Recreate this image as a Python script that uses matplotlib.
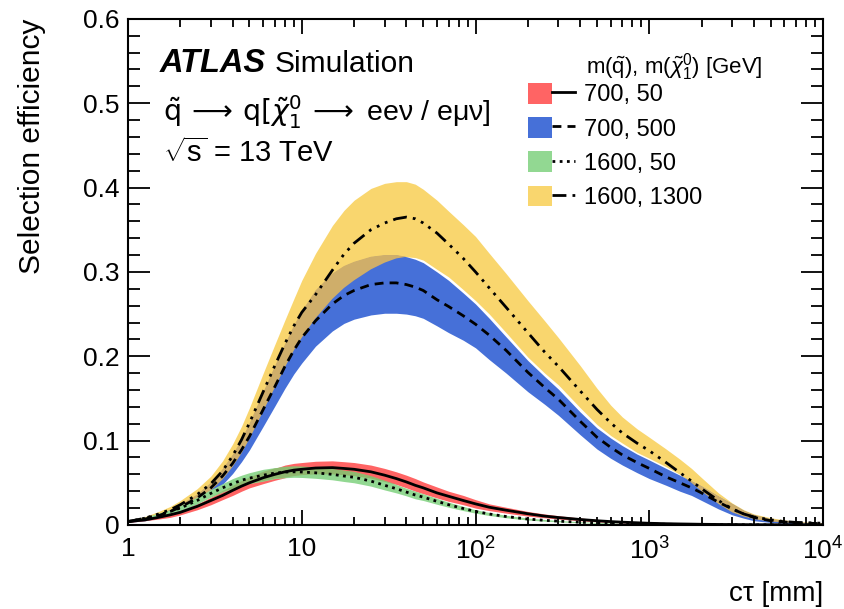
import matplotlib
matplotlib.use("Agg")
import matplotlib.pyplot as plt
import numpy as np
from matplotlib.patches import Patch
from matplotlib.lines import Line2D
from matplotlib.legend_handler import HandlerTuple
from matplotlib.ticker import FixedLocator, LogLocator, NullFormatter

plt.rcParams['font.family'] = ['Liberation Sans', 'DejaVu Sans']
plt.rcParams['mathtext.fontset'] = 'custom'
plt.rcParams['mathtext.rm'] = 'Liberation Sans'
plt.rcParams['mathtext.it'] = 'Liberation Sans:italic'
plt.rcParams['mathtext.bf'] = 'Liberation Sans:bold'

# c*tau points [mm]
ctau = [1, 1.25, 1.5, 1.75, 2, 2.5, 3, 3.5, 4, 4.5, 5, 6, 7, 8, 9, 10, 12, 15, 17.5, 20,
        25, 30, 35, 40, 45, 50, 60, 70, 85, 100, 120, 150, 200, 250, 300, 400, 500, 600,
        700, 850, 1000, 1250, 1500, 1750, 2000, 2500, 3000, 3500, 4000, 5000, 6000, 7000,
        8500, 10000]

# m(squark), m(chi) = 700, 50
eff_700_50 = [0.004, 0.006, 0.009, 0.012, 0.015, 0.022, 0.029, 0.035, 0.041, 0.046, 0.050,
              0.056, 0.060, 0.063, 0.065, 0.066, 0.0675, 0.068, 0.067, 0.066, 0.063, 0.059,
              0.055, 0.051, 0.047, 0.044, 0.038, 0.034, 0.029, 0.025, 0.021, 0.0175, 0.0133,
              0.0105, 0.0088, 0.0065, 0.005, 0.004, 0.0033, 0.0026, 0.002, 0.0015, 0.0012,
              0.001, 0.0008, 0.0006, 0.0005, 0.0004, 0.0003, 0.0003, 0.0002, 0.0002, 0.0001,
              0.0001]
up_700_50 = [0.005, 0.007, 0.010, 0.014, 0.017, 0.025, 0.033, 0.040, 0.046, 0.052, 0.056,
             0.063, 0.067, 0.071, 0.073, 0.074, 0.0755, 0.076, 0.075, 0.074, 0.071, 0.067,
             0.063, 0.059, 0.055, 0.051, 0.045, 0.040, 0.035, 0.030, 0.025, 0.021, 0.016,
             0.013, 0.011, 0.0082, 0.0065, 0.0052, 0.0043, 0.0034, 0.0027, 0.002, 0.0016,
             0.0013, 0.0011, 0.0008, 0.0007, 0.0005, 0.0004, 0.0004, 0.0003, 0.0003, 0.0002,
             0.0002]
lo_700_50 = [0.003, 0.005, 0.007, 0.009, 0.012, 0.018, 0.024, 0.030, 0.035, 0.040, 0.044,
             0.049, 0.053, 0.056, 0.058, 0.059, 0.060, 0.060, 0.059, 0.058, 0.055, 0.051,
             0.048, 0.044, 0.040, 0.037, 0.032, 0.028, 0.024, 0.020, 0.017, 0.014, 0.0105,
             0.0085, 0.007, 0.005, 0.0037, 0.003, 0.0025, 0.0019, 0.0015, 0.0011, 0.0009,
             0.0007, 0.0006, 0.0004, 0.0003, 0.0003, 0.0002, 0.0002, 0.0001, 0.0001, 0.0001,
             0.0]

# 700, 500
eff_700_500 = [0.004, 0.007, 0.011, 0.016, 0.021, 0.032, 0.044, 0.058, 0.073, 0.089, 0.105,
               0.137, 0.164, 0.188, 0.207, 0.222, 0.242, 0.262, 0.272, 0.278, 0.285, 0.287,
               0.287, 0.285, 0.282, 0.278, 0.267, 0.259, 0.248, 0.238, 0.225, 0.207, 0.181,
               0.163, 0.149, 0.123, 0.104, 0.092, 0.083, 0.074, 0.067, 0.057, 0.050, 0.044,
               0.038, 0.027, 0.019, 0.013, 0.009, 0.005, 0.0035, 0.0025, 0.002, 0.0015]
up_700_500 = [0.005, 0.008, 0.013, 0.018, 0.024, 0.036, 0.050, 0.066, 0.083, 0.101, 0.120,
              0.157, 0.188, 0.214, 0.236, 0.253, 0.278, 0.298, 0.307, 0.312, 0.318, 0.320,
              0.320, 0.318, 0.315, 0.311, 0.300, 0.290, 0.275, 0.262, 0.245, 0.223, 0.195,
              0.176, 0.161, 0.134, 0.115, 0.103, 0.094, 0.084, 0.077, 0.067, 0.059, 0.052,
              0.046, 0.034, 0.025, 0.017, 0.012, 0.007, 0.005, 0.0035, 0.0025, 0.002]
lo_700_500 = [0.003, 0.005, 0.008, 0.012, 0.016, 0.025, 0.036, 0.048, 0.061, 0.075, 0.089,
              0.117, 0.141, 0.162, 0.179, 0.192, 0.212, 0.230, 0.239, 0.244, 0.249, 0.251,
              0.251, 0.250, 0.248, 0.245, 0.236, 0.228, 0.219, 0.210, 0.196, 0.180, 0.158,
              0.143, 0.130, 0.107, 0.090, 0.079, 0.071, 0.062, 0.055, 0.047, 0.040, 0.035,
              0.029, 0.019, 0.012, 0.008, 0.005, 0.003, 0.002, 0.0015, 0.001, 0.001]

# 1600, 50
eff_1600_50 = [0.004, 0.008, 0.012, 0.016, 0.020, 0.029, 0.0375, 0.044, 0.049, 0.053, 0.0555,
               0.059, 0.0615, 0.0627, 0.063, 0.0628, 0.0618, 0.060, 0.058, 0.0565, 0.052,
               0.047, 0.043, 0.039, 0.0355, 0.033, 0.028, 0.024, 0.0195, 0.016, 0.013, 0.010,
               0.007, 0.0055, 0.0045, 0.0032, 0.0025, 0.002, 0.0015, 0.0012, 0.001, 0.0008,
               0.0006, 0.0005, 0.0004, 0.0003, 0.0002, 0.0002, 0.0001, 0.0001, 0.0001, 0.0001,
               0.0, 0.0]
up_1600_50 = [0.005, 0.009, 0.014, 0.018, 0.023, 0.033, 0.042, 0.049, 0.055, 0.059, 0.062,
              0.066, 0.068, 0.069, 0.0695, 0.0693, 0.0683, 0.0665, 0.0645, 0.063, 0.058,
              0.0525, 0.048, 0.0435, 0.040, 0.037, 0.0315, 0.027, 0.022, 0.018, 0.0148,
              0.0115, 0.0082, 0.0065, 0.0053, 0.0038, 0.003, 0.0024, 0.0018, 0.0015, 0.0012,
              0.001, 0.0008, 0.0006, 0.0005, 0.0004, 0.0003, 0.0002, 0.0002, 0.0001, 0.0001,
              0.0001, 0.0001, 0.0001]
lo_1600_50 = [0.003, 0.007, 0.010, 0.014, 0.017, 0.025, 0.033, 0.039, 0.043, 0.047, 0.049,
              0.052, 0.055, 0.056, 0.0565, 0.0563, 0.0553, 0.0535, 0.0515, 0.050, 0.046,
              0.0415, 0.038, 0.0345, 0.031, 0.029, 0.0245, 0.021, 0.017, 0.014, 0.0112,
              0.0085, 0.0058, 0.0045, 0.0037, 0.0026, 0.002, 0.0016, 0.0012, 0.0009, 0.0008,
              0.0006, 0.0004, 0.0004, 0.0003, 0.0002, 0.0001, 0.0001, 0.0, 0.0, 0.0, 0.0,
              0.0, 0.0]

# 1600, 1300
eff_1600_1300 = [0.004, 0.008, 0.013, 0.018, 0.024, 0.036, 0.049, 0.064, 0.082, 0.101, 0.121,
                 0.158, 0.189, 0.215, 0.236, 0.252, 0.273, 0.302, 0.321, 0.334, 0.350, 0.358,
                 0.363, 0.365, 0.363, 0.358, 0.346, 0.333, 0.316, 0.300, 0.281, 0.258, 0.228,
                 0.205, 0.188, 0.159, 0.137, 0.121, 0.109, 0.097, 0.088, 0.074, 0.062, 0.052,
                 0.043, 0.029, 0.019, 0.013, 0.0095, 0.006, 0.004, 0.003, 0.0025, 0.002]
up_1600_1300 = [0.005, 0.010, 0.016, 0.022, 0.029, 0.043, 0.058, 0.076, 0.096, 0.117, 0.139,
                0.180, 0.214, 0.243, 0.268, 0.290, 0.322, 0.355, 0.373, 0.385, 0.399, 0.405,
                0.407, 0.407, 0.404, 0.398, 0.385, 0.372, 0.356, 0.342, 0.322, 0.298, 0.266,
                0.242, 0.222, 0.189, 0.162, 0.142, 0.128, 0.114, 0.104, 0.090, 0.078, 0.067,
                0.056, 0.038, 0.026, 0.018, 0.013, 0.0085, 0.006, 0.004, 0.003, 0.0025]
lo_1600_1300 = [0.003, 0.006, 0.010, 0.014, 0.019, 0.029, 0.041, 0.054, 0.069, 0.085, 0.102,
                0.135, 0.163, 0.187, 0.207, 0.222, 0.245, 0.268, 0.281, 0.290, 0.303, 0.311,
                0.316, 0.318, 0.317, 0.314, 0.303, 0.294, 0.279, 0.266, 0.250, 0.228, 0.199,
                0.180, 0.166, 0.139, 0.119, 0.106, 0.097, 0.086, 0.079, 0.069, 0.060, 0.050,
                0.040, 0.025, 0.015, 0.010, 0.007, 0.004, 0.003, 0.002, 0.0015, 0.001]

labels = ['700, 50', '700, 500', '1600, 50', '1600, 1300']
yticks = [0, 0.1, 0.2, 0.3, 0.4, 0.5, 0.6]
ytick_labels = ['0', '0.1', '0.2', '0.3', '0.4', '0.5', '0.6']
xticks = [1, 10, 100, 1000, 10000]
xtick_labels = ['1', '10', r'$10^{2}$', r'$10^{3}$', r'$10^{4}$']

c_red = '#ff6464'
c_blue = '#4670d8'
c_green = '#92d892'
c_yellow = '#f9d66e'
c_yb = '#cfae6a'   # yellow on blue
c_rg = '#8fb86e'   # green on red

ls_dash = (0, (3.2, 2.2))
ls_dot = (0, (1, 1.6))
ls_dashdot = (0, (5, 2.2, 1, 2.2, 1, 2.2, 1, 2.2))

fig = plt.figure(figsize=(8.45, 6.09), dpi=100)
ax = fig.add_axes([0.1515, 0.138, 0.8225, 0.831])

x = np.array(ctau)

# bands
ax.fill_between(x, lo_1600_1300, up_1600_1300, color=c_yellow, lw=0)
ax.fill_between(x, lo_700_500, up_700_500, color=c_blue, lw=0)
ov_lo = np.maximum(lo_1600_1300, lo_700_500)
ov_up = np.minimum(up_1600_1300, up_700_500)
ax.fill_between(x, ov_lo, ov_up, where=ov_up > ov_lo, interpolate=True, color=c_yb, lw=0)

ax.fill_between(x, lo_700_50, up_700_50, color=c_red, lw=0)
ax.fill_between(x, lo_1600_50, up_1600_50, color=c_green, lw=0)
ov_lo = np.maximum(lo_700_50, lo_1600_50)
ov_up = np.minimum(up_700_50, up_1600_50)
ax.fill_between(x, ov_lo, ov_up, where=ov_up > ov_lo, interpolate=True, color=c_rg, lw=0)

# central values
ax.plot(x, eff_700_50, color='k', lw=2, ls='-')
ax.plot(x, eff_700_500, color='k', lw=2, ls=ls_dash)
ax.plot(x, eff_1600_50, color='k', lw=2, ls=ls_dot)
ax.plot(x, eff_1600_1300, color='k', lw=2, ls=ls_dashdot)

ax.set_xscale('log')
ax.set_xlim(1, 1e4)
ax.set_ylim(0, 0.6)

ax.xaxis.set_major_locator(FixedLocator(xticks))
ax.set_xticklabels(xtick_labels)
ax.xaxis.set_minor_locator(LogLocator(base=10, subs=np.arange(2, 10)))
ax.xaxis.set_minor_formatter(NullFormatter())
ax.set_yticks(yticks)
ax.set_yticklabels(ytick_labels)
ax.set_yticks(np.arange(0, 0.601, 0.02), minor=True)

ax.tick_params(which='both', direction='in', top=True, right=True, width=1.3,
               labelsize=19, colors='k')
ax.tick_params(axis='y', which='major', length=16, pad=6)
ax.tick_params(axis='y', which='minor', length=8.5)
ax.tick_params(axis='x', which='major', length=11, pad=9)
ax.tick_params(axis='x', which='minor', length=5.5)
for s in ax.spines.values():
    s.set_linewidth(1.5)

ax.set_xlabel('cτ [mm]', fontsize=20, loc='right', labelpad=12)
ax.set_ylabel('Selection efficiency', fontsize=21.5, loc='top', labelpad=27)

ax.text(0.046, 0.895, 'ATLAS', transform=ax.transAxes, fontsize=23.5,
        fontweight='bold', fontstyle='italic', va='baseline')
ax.text(0.211, 0.895, 'Simulation', transform=ax.transAxes, fontsize=21.5, va='baseline')
ax.text(0.05, 0.815,
        r'$\tilde{\mathrm{q}}\,\longrightarrow\,\mathrm{q}[\tilde{\chi}^{0}_{1}\,\longrightarrow$ eeν / eμν]',
        transform=ax.transAxes, fontsize=20.5, va='center', math_fontfamily='dejavusans')
ax.text(0.05, 0.735, r'$\sqrt{\mathrm{s}}$ = 13 TeV', transform=ax.transAxes,
        fontsize=21, va='center')

ax.text(0.659, 0.905, r'm($\tilde{\mathrm{q}}$), m($\tilde{\chi}^{0}_{1}$) [GeV]',
        transform=ax.transAxes, fontsize=16, va='center')

handles = [
    (Patch(facecolor=c_red, lw=0), Line2D([], [], color='k', lw=2, ls='-')),
    (Patch(facecolor=c_blue, lw=0), Line2D([], [], color='k', lw=2, ls=ls_dash)),
    (Patch(facecolor=c_green, lw=0), Line2D([], [], color='k', lw=2, ls=ls_dot)),
    (Patch(facecolor=c_yellow, lw=0), Line2D([], [], color='k', lw=2, ls=ls_dashdot)),
]
ax.legend(handles, labels, handler_map={tuple: HandlerTuple(ndivide=None, pad=0)},
          loc='upper left', bbox_to_anchor=(0.5755, 0.873), frameon=False,
          fontsize=17, handlelength=2.0, handleheight=0.95, handletextpad=0.38,
          labelspacing=0.46, borderpad=0, borderaxespad=0)

fig.savefig('out.png', dpi=100)
